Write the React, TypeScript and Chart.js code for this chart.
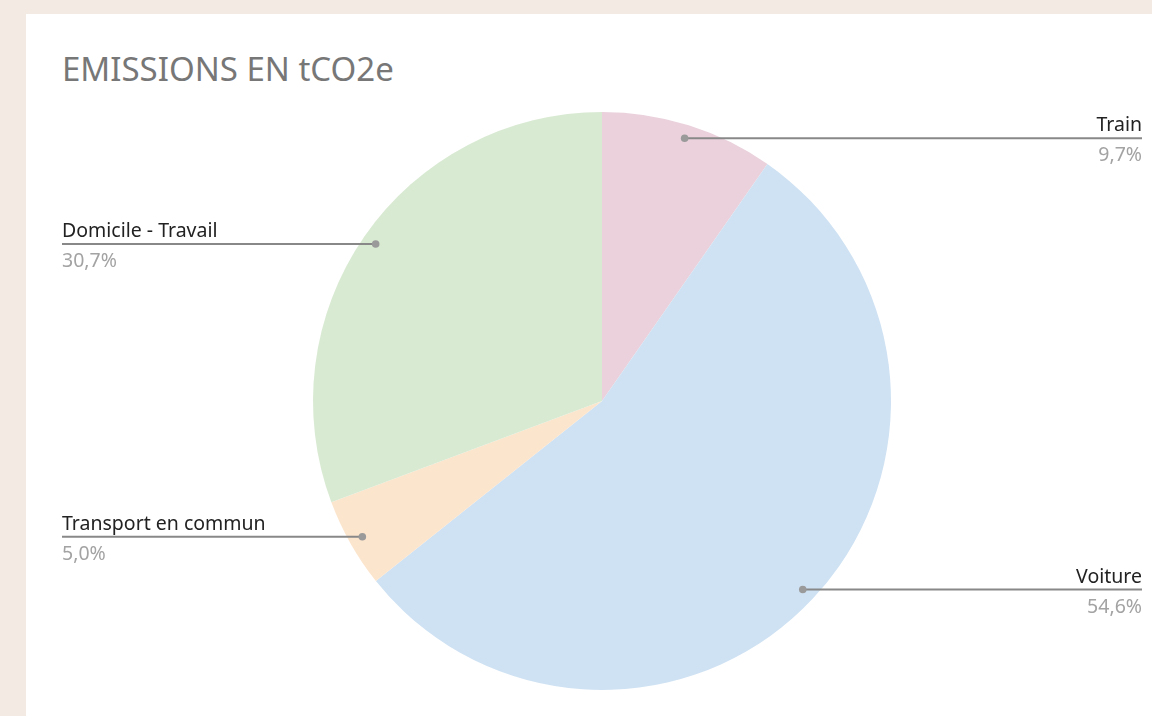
import React, { useEffect, useRef } from "react";
import { Chart, registerables } from "chart.js";

Chart.register(...registerables);

const categories = ["Train", "Voiture", "Transport en commun", "Domicile - Travail"];
const shares = [9.7, 54.6, 5.0, 30.7];
const colors = ["#ead1dc", "#cfe2f3", "#fce5cd", "#d9ead3"];
const titleText = "EMISSIONS EN tCO2e";

const W = 1126;
const H = 702;

const leaderPlugin = {
  id: "leaders",
  afterDatasetsDraw(chart: any) {
    const ctx = chart.ctx;
    const meta = chart.getDatasetMeta(0);
    const total = shares.reduce((a, b) => a + b, 0);
    meta.data.forEach((arc: any, i: number) => {
      const { x, y, startAngle, endAngle, outerRadius } = arc.getProps(
        ["x", "y", "startAngle", "endAngle", "outerRadius"],
        true
      );
      const mid = (startAngle + endAngle) / 2;
      const r = outerRadius * 0.953;
      const px = x + Math.cos(mid) * r;
      const py = y + Math.sin(mid) * r;
      const right = Math.cos(mid) >= 0;
      const tx = right ? chart.width - 10 : 36;
      ctx.save();
      ctx.strokeStyle = "#888888";
      ctx.lineWidth = 2;
      ctx.beginPath();
      ctx.moveTo(px, py);
      ctx.lineTo(tx, py);
      ctx.stroke();
      ctx.fillStyle = "#9a9a9a";
      ctx.beginPath();
      ctx.arc(px, py, 3.8, 0, Math.PI * 2);
      ctx.fill();
      ctx.textAlign = right ? "right" : "left";
      ctx.font = "19.5px 'Noto Sans', sans-serif";
      ctx.fillStyle = "#222222";
      ctx.textBaseline = "alphabetic";
      ctx.fillText(categories[i], tx, py - 7);
      ctx.fillStyle = "#a3a3a3";
      const pct = ((shares[i] / total) * 100).toFixed(1).replace(".", ",") + "%";
      ctx.fillText(pct, tx, py + 23);
      ctx.restore();
    });
  },
};

export default function App() {
  const ref = useRef<HTMLCanvasElement>(null);
  useEffect(() => {
    if (!ref.current) return;
    const chart = new Chart(ref.current, {
      type: "pie",
      data: {
        labels: categories,
        datasets: [
          {
            data: shares,
            backgroundColor: colors,
            borderWidth: 0,
          },
        ],
      },
      options: {
        animation: false,
        responsive: false,
        maintainAspectRatio: false,
        layout: { padding: { top: 98, bottom: 26, left: 200, right: 174 } },
        plugins: {
          legend: { display: false },
          tooltip: { enabled: false },
          title: { display: false },
        },
      },
      plugins: [leaderPlugin],
    });
    return () => chart.destroy();
  }, []);
  return (
    <div
      style={{
        position: "fixed",
        left: 0,
        top: 0,
        width: 1152,
        height: 716,
        background: "#f3ebe3",
        overflow: "hidden",
      }}
    >
      <div
        style={{
          position: "absolute",
          left: 26,
          top: 14,
          width: W,
          height: H,
          background: "#ffffff",
        }}
      >
        <div
          style={{
            position: "absolute",
            left: 36,
            top: 35,
            fontFamily: "'Noto Sans', sans-serif",
            fontSize: 33,
            color: "#777777",
            lineHeight: "40px",
            whiteSpace: "nowrap",
          }}
        >
          {titleText}
        </div>
        <canvas ref={ref} width={W} height={H} style={{ position: "absolute", left: 0, top: 0 }} />
      </div>
    </div>
  );
}
